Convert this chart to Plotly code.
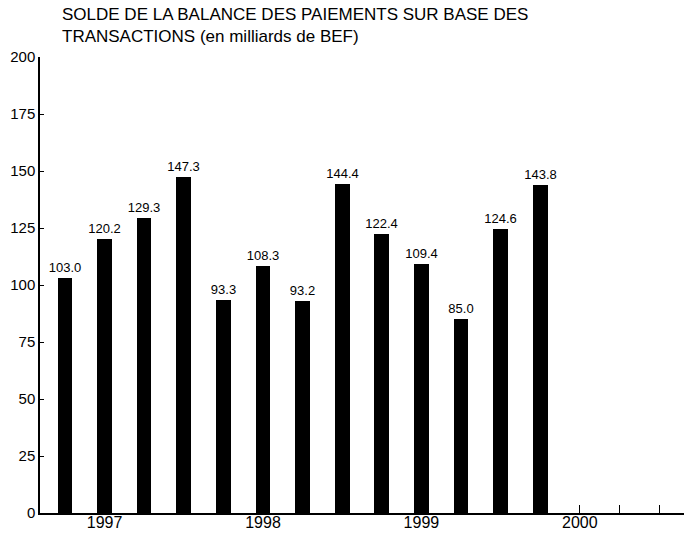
import plotly.graph_objects as go

quarters = ["1997T1", "1997T2", "1997T3", "1997T4",
            "1998T1", "1998T2", "1998T3", "1998T4",
            "1999T1", "1999T2", "1999T3", "1999T4",
            "2000T1", "2000T2", "2000T3", "2000T4"]
values = [103.0, 120.2, 129.3, 147.3,
          93.3, 108.3, 93.2, 144.4,
          122.4, 109.4, 85.0, 124.6,
          143.8]
year_labels = ["", "1997", "", "", "", "1998", "", "", "", "1999", "", "", "", "2000", "", ""]
y_ticks = [0, 25, 50, 75, 100, 125, 150, 175, 200]
title_text = "SOLDE DE LA BALANCE DES PAIEMENTS SUR BASE DES<br>TRANSACTIONS (en milliards de BEF)"

pos = list(range(len(quarters)))
FONT = "Liberation Sans, Arial, Helvetica, sans-serif"

fig = go.Figure()
fig.add_trace(go.Bar(
    x=pos[:len(values)],
    y=values,
    width=0.37,
    marker=dict(color="black", line=dict(width=0)),
    text=[f"{v:.1f}" for v in values],
    textposition="outside",
    constraintext="none",
    textfont=dict(family=FONT, size=13, color="black"),
    cliponaxis=False,
    hovertext=quarters[:len(values)],
))

fig.update_layout(
    width=687, height=533,
    margin=dict(l=40, r=3, t=57, b=20),
    paper_bgcolor="white", plot_bgcolor="white",
    showlegend=False,
    font=dict(family=FONT, color="black"),
    uniformtext=dict(mode=False),
    bargap=0,
    xaxis=dict(
        range=[-0.63, 15.63],
        tickvals=pos, ticktext=year_labels,
        ticks="inside", ticklen=8, tickwidth=1.2, tickcolor="black",
        showline=True, linecolor="black", linewidth=2,
        showgrid=False, zeroline=False,
        tickfont=dict(family=FONT, size=16, color="black"),
        ticklabelstandoff=-6,
        layer="below traces", automargin=False,
    ),
    yaxis=dict(
        range=[0, 200],
        tickvals=y_ticks,
        ticks="inside", ticklen=4, tickwidth=1, tickcolor="black",
        showline=True, linecolor="black", linewidth=1.5,
        showgrid=False, zeroline=False,
        tickfont=dict(family=FONT, size=15, color="black"),
        layer="below traces", automargin=False,
    ),
    annotations=[dict(
        text=title_text, xref="paper", yref="paper",
        x=(60 - 40) / 644, y=(513 - 3) / 456,
        xanchor="left", yanchor="top", align="left", showarrow=False,
        font=dict(family=FONT, size=17, color="black"),
    )],
)

fig.write_html("out.html", config={"displayModeBar": False},
               post_script="document.body.style.margin='0';")
